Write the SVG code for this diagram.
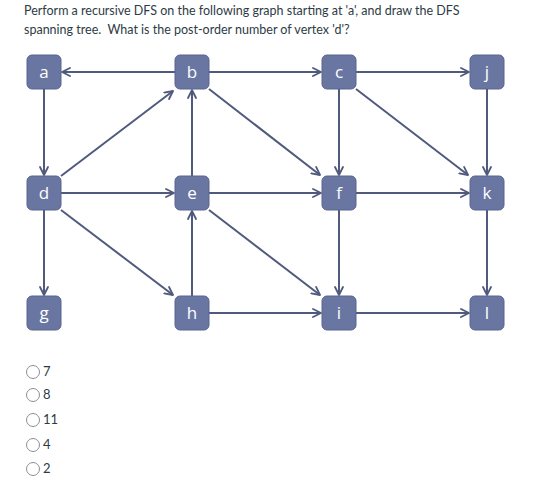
<svg xmlns="http://www.w3.org/2000/svg" width="540" height="488" viewBox="0 0 540 488">
<defs>
<marker id="ah" viewBox="0 0 10 10" refX="9" refY="5" markerWidth="10" markerHeight="10" markerUnits="userSpaceOnUse" orient="auto">
<path d="M1,1 L9,5 L1,9" fill="none" stroke="#4f5a7c" stroke-width="1.8" stroke-linecap="round" stroke-linejoin="round"/>
</marker>
<style>
.t{font-family:Lato,"Liberation Sans",sans-serif;font-size:12.5px;fill:#2d3b45;white-space:pre}
.e{stroke:#4f5a7c;stroke-width:2;fill:none;marker-end:url(#ah)}
.n rect{fill:#6a76a2;stroke:#59648e;stroke-width:1}
.n text{font-family:"Open Sans","Liberation Sans",sans-serif;font-size:17px;fill:#ffffff;text-anchor:middle}
.o circle{fill:#ffffff;stroke:#8a9096;stroke-width:1}
.o text{font-family:Lato,"Liberation Sans",sans-serif;font-size:13px;fill:#2d3b45}
</style>
</defs>
<rect width="540" height="488" fill="#ffffff"/>
<text class="t" x="24" y="15">Perform a recursive DFS on the following graph starting at 'a', and draw the DFS</text>
<text class="t" x="24" y="34" xml:space="preserve">spanning tree.  What is the post-order number of vertex 'd'?</text>
<g id="edges">
<line class="e" x1="175" y1="72" x2="62" y2="72"/>
<line class="e" x1="209" y1="72" x2="321" y2="72"/>
<line class="e" x1="356" y1="72" x2="469" y2="72"/>
<line class="e" x1="44" y1="89" x2="44" y2="175"/>
<line class="e" x1="44" y1="210" x2="44" y2="295"/>
<line class="e" x1="61" y1="193" x2="174" y2="193"/>
<line class="e" x1="209" y1="193" x2="321" y2="193"/>
<line class="e" x1="356" y1="193" x2="469" y2="193"/>
<line class="e" x1="209" y1="313" x2="321" y2="313"/>
<line class="e" x1="356" y1="313" x2="469" y2="313"/>
<line class="e" x1="61" y1="176" x2="173" y2="91"/>
<line class="e" x1="192" y1="176" x2="192" y2="90"/>
<line class="e" x1="192" y1="296" x2="192" y2="211"/>
<line class="e" x1="209" y1="89" x2="320" y2="175"/>
<line class="e" x1="339" y1="89" x2="339" y2="175"/>
<line class="e" x1="356" y1="89" x2="468" y2="175"/>
<line class="e" x1="487" y1="89" x2="487" y2="175"/>
<line class="e" x1="61" y1="210" x2="173" y2="295"/>
<line class="e" x1="209" y1="210" x2="320" y2="295"/>
<line class="e" x1="339" y1="210" x2="339" y2="295"/>
<line class="e" x1="487" y1="210" x2="487" y2="295"/>
</g>
<g id="a" class="n"><rect x="27" y="55" width="34" height="34" rx="5"/><text x="44" y="78">a</text></g>
<g id="b" class="n"><rect x="175" y="55" width="34" height="34" rx="5"/><text x="192" y="78">b</text></g>
<g id="c" class="n"><rect x="322" y="55" width="34" height="34" rx="5"/><text x="339" y="78">c</text></g>
<g id="j" class="n"><rect x="470" y="55" width="34" height="34" rx="5"/><text x="487" y="78">j</text></g>
<g id="d" class="n"><rect x="27" y="176" width="34" height="34" rx="5"/><text x="44" y="199">d</text></g>
<g id="e" class="n"><rect x="175" y="176" width="34" height="34" rx="5"/><text x="192" y="199">e</text></g>
<g id="f" class="n"><rect x="322" y="176" width="34" height="34" rx="5"/><text x="339" y="199">f</text></g>
<g id="k" class="n"><rect x="470" y="176" width="34" height="34" rx="5"/><text x="487" y="199">k</text></g>
<g id="g" class="n"><rect x="27" y="296" width="34" height="34" rx="5"/><text x="44" y="319">g</text></g>
<g id="h" class="n"><rect x="175" y="296" width="34" height="34" rx="5"/><text x="192" y="319">h</text></g>
<g id="i" class="n"><rect x="322" y="296" width="34" height="34" rx="5"/><text x="339" y="319">i</text></g>
<g id="l" class="n"><rect x="470" y="296" width="34" height="34" rx="5"/><text x="487" y="319">l</text></g>
<g id="options" class="o">
<circle cx="33" cy="372" r="6.5"/><text x="43" y="376">7</text>
<circle cx="33" cy="395" r="6.5"/><text x="43" y="399">8</text>
<circle cx="33" cy="420" r="6.5"/><text x="43" y="424">11</text>
<circle cx="33" cy="445" r="6.5"/><text x="43" y="449">4</text>
<circle cx="33" cy="469" r="6.5"/><text x="43" y="473">2</text>
</g>
</svg>
